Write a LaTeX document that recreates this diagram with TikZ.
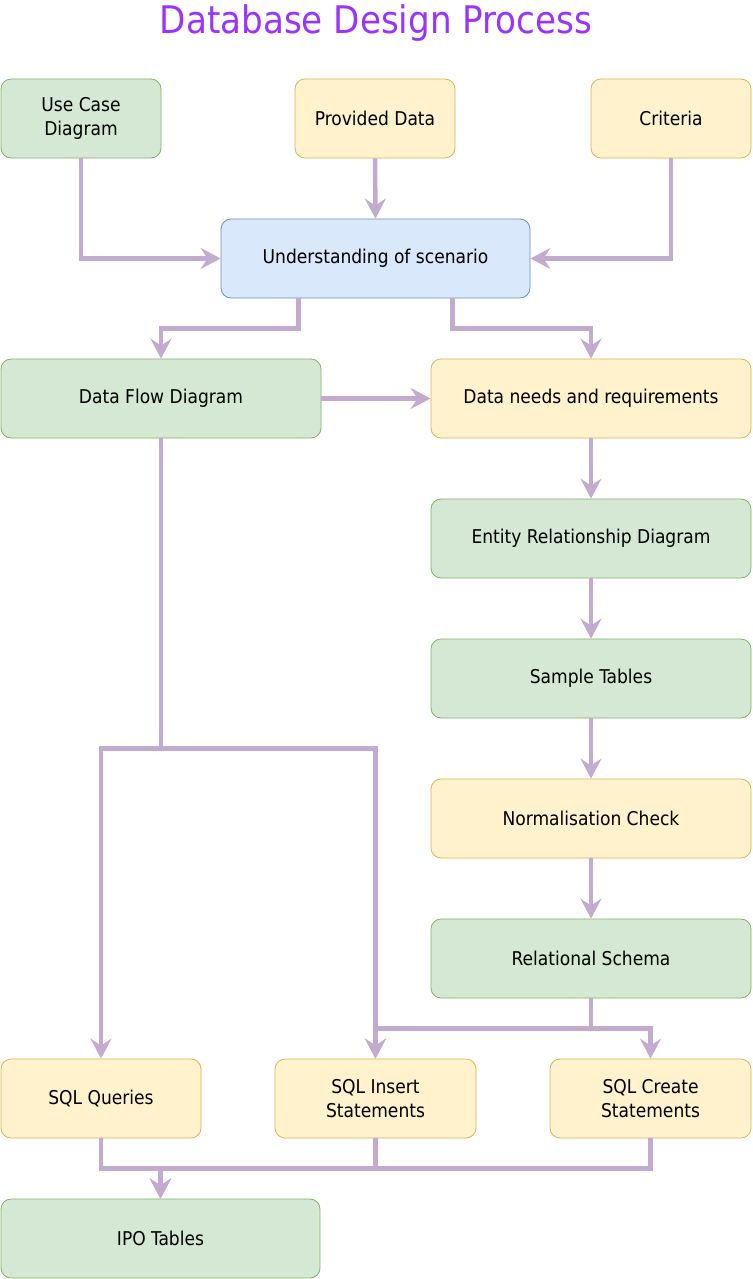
\documentclass[tikz,border=0pt]{standalone}
\usepackage{fontspec}
\setmainfont{DejaVu Sans Condensed}
\usetikzlibrary{arrows.meta}

\definecolor{greenfill}{HTML}{D5E8D4}
\definecolor{greenline}{HTML}{82B366}
\definecolor{yellowfill}{HTML}{FFF2CC}
\definecolor{yellowline}{HTML}{D6B656}
\definecolor{bluefill}{HTML}{DAE8FC}
\definecolor{blueline}{HTML}{6C8EBF}
\definecolor{linkcol}{HTML}{C3ABD0}
\definecolor{titlecol}{HTML}{9933FF}

\tikzset{
  box/.style={rounded corners=10pt, line width=0.8pt, minimum height=79pt, align=center,
    inner sep=0pt, font=\fontsize{19}{24}\selectfont},
  greenbox/.style={box, fill=greenfill, draw=greenline},
  yellowbox/.style={box, fill=yellowfill, draw=yellowline},
  bluebox/.style={box, fill=bluefill, draw=blueline},
  link/.style={draw=linkcol, line width=4.5pt, -{Stealth[length=20pt,width=21pt,inset=7pt]}}
}

\begin{document}
\begin{tikzpicture}[x=1pt,y=-1pt]

\useasboundingbox (0,0) rectangle (752,1279);

\node[text=titlecol, font=\fontsize{38}{44}\selectfont] (title) at (376,23) {Database Design Process};

\node[greenbox, minimum width=160pt] (ucd) at (81,118.5) {Use Case\\Diagram};
\node[yellowbox, minimum width=160pt] (pdata) at (375,118.5) {Provided Data};
\node[yellowbox, minimum width=160pt] (crit) at (671,118.5) {Criteria};
\node[bluebox, minimum width=309pt] (und) at (375.5,258.5) {Understanding of scenario};
\node[greenbox, minimum width=320pt] (dfd) at (161,398.5) {Data Flow Diagram};
\node[yellowbox, minimum width=320pt] (dneed) at (591,398.5) {Data needs and requirements};
\node[greenbox, minimum width=320pt] (erd) at (591,538.5) {Entity Relationship Diagram};
\node[greenbox, minimum width=320pt] (samp) at (591,678.5) {Sample Tables};
\node[yellowbox, minimum width=320pt] (norm) at (591,818.5) {Normalisation Check};
\node[greenbox, minimum width=320pt] (rel) at (591,958.5) {Relational Schema};
\node[yellowbox, minimum width=200pt] (sqlq) at (101,1098.5) {SQL Queries};
\node[yellowbox, minimum width=201pt] (sqli) at (375.5,1098.5) {SQL Insert\\Statements};
\node[yellowbox, minimum width=201pt] (sqlc) at (650.5,1098.5) {SQL Create\\Statements};
\node[greenbox, minimum width=319pt] (ipo) at (160.5,1238.5) {IPO Tables};

\draw[link] (ucd.south) |- (und.west);
\draw[link] (pdata.south) -- (und.north);
\draw[link] (crit.south) |- (und.east);
\draw[link] ([xshift=-77pt]und.south) -- ++(0,30) -| (dfd.north);
\draw[link] ([xshift=77pt]und.south) -- ++(0,30) -| (dneed.north);
\draw[link] (dfd.east) -- (dneed.west);
\draw[link] (dneed.south) -- (erd.north);
\draw[link] (erd.south) -- (samp.north);
\draw[link] (samp.south) -- (norm.north);
\draw[link] (norm.south) -- (rel.north);
\draw[link] (dfd.south) -- ++(0,310) -| (sqlq.north);
\draw[link] (dfd.south) -- ++(0,310) -| (sqli.north);
\draw[link] (rel.south) -- ++(0,30) -| (sqli.north);
\draw[link] (rel.south) -- ++(0,30) -| (sqlc.north);
\draw[link] (sqlq.south) -- ++(0,30) -| (ipo.north);
\draw[link] (sqli.south) -- ++(0,30) -| (ipo.north);
\draw[link] (sqlc.south) -- ++(0,30) -| (ipo.north);

\end{tikzpicture}
\end{document}
